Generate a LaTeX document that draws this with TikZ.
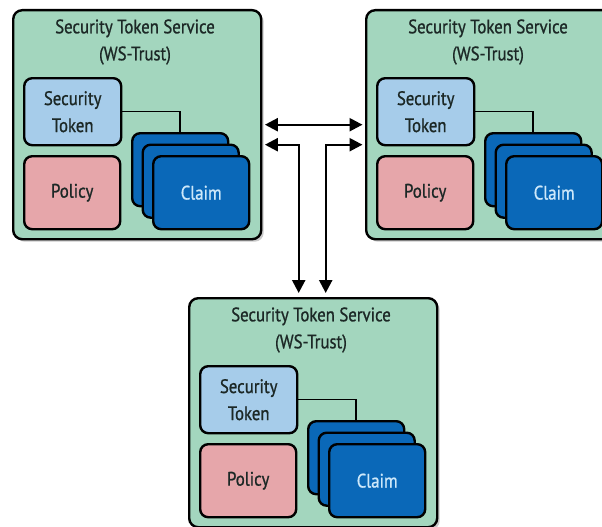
\documentclass[tikz,border=0pt]{standalone}
\usepackage{fontspec}
\setmainfont[FakeStretch=0.86,FakeBold=0.9]{PT Sans}
\usetikzlibrary{shadows,arrows.meta}
\definecolor{stsgreen}{RGB}{163,214,190}
\definecolor{tokblue}{RGB}{166,204,234}
\definecolor{polpink}{RGB}{230,166,170}
\definecolor{claimblue}{RGB}{10,104,184}
\definecolor{claimtext}{RGB}{205,232,250}
\definecolor{txtdark}{RGB}{28,40,38}
\tikzset{
  myshadow/.style={drop shadow={shadow xshift=2.5pt, shadow yshift=-2.5pt, opacity=0.35, fill=black!60}},
  outerbox/.style={draw=black, line width=2.4pt, fill=stsgreen, rounded corners=9pt,
    minimum width=248pt, minimum height=229pt, anchor=north west, inner sep=0pt, myshadow},
  innerbox/.style={draw=black, line width=2.4pt, rounded corners=8pt, anchor=north west,
    inner sep=0pt, align=center, text=txtdark, font=\fontsize{19.5}{27}\selectfont},
  tokbox/.style={innerbox, fill=tokblue, minimum width=97pt, minimum height=67pt},
  polbox/.style={innerbox, fill=polpink, minimum width=96pt, minimum height=73pt},
  claimcard/.style={innerbox, fill=claimblue, minimum width=96pt, minimum height=73pt, text=claimtext},
  titletext/.style={align=center, text=txtdark, font=\fontsize{19.5}{27}\selectfont, inner sep=0pt},
  link/.style={draw=black, line width=1.5pt},
  arr/.style={line width=2.4pt, {Triangle[length=13pt,width=13pt]}-{Triangle[length=13pt,width=13pt]}}
}
\newcommand\stsunit[3]{%
  \node[outerbox] (#1) at (#2,#3) {};
  \node[titletext] (#1t) at ({#2+123},{#3+33}) {Security Token Service\\(WS-Trust)};
  \node[tokbox] (#1st) at ({#2+11},{#3+68}) {Security\\Token};
  \node[polbox] (#1po) at ({#2+11},{#3+146}) {Policy};
  \node[claimcard] (#1ca) at ({#2+119},{#3+123}) {};
  \node[claimcard] (#1cb) at ({#2+129.5},{#3+134.5}) {};
  \node[claimcard] (#1cc) at ({#2+140},{#3+146}) {Claim};
  \draw[link] (#1st.east) -| (#1ca.north);
}
\begin{document}
\begin{tikzpicture}[x=1pt,y=-1pt]
\useasboundingbox (0,0) rectangle (602,527);
\fill[white] (0,0) rectangle (602,527);
\stsunit{a}{12}{9}
\stsunit{b}{365}{9}
\stsunit{c}{188}{297}
\draw[arr, shorten <=2.5pt, shorten >=2.5pt] (a.east) -- (b.west);
\draw[arr, shorten <=2.5pt, shorten >=4pt] ([yshift=-20pt]a.east) -| ([xshift=-14.5pt]c.north);
\draw[arr, shorten <=2.5pt, shorten >=4pt] ([yshift=-20pt]b.west) -| ([xshift=12.5pt]c.north);
\end{tikzpicture}
\end{document}
